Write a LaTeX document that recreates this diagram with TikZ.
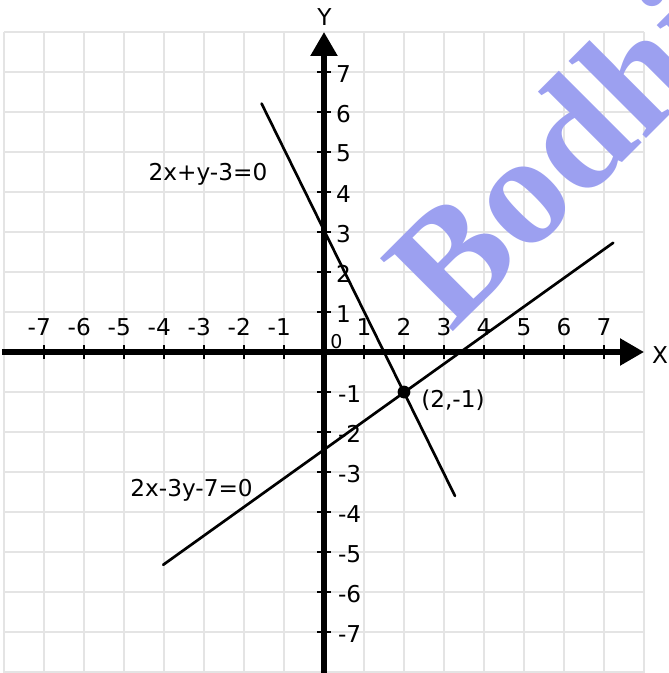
\documentclass[tikz,border=0pt]{standalone}
\usepackage{fontspec}
\setmainfont{DejaVu Sans}
\newfontfamily\wmfont{Liberation Serif}
\usetikzlibrary{arrows.meta}
\definecolor{gridgray}{RGB}{228,228,228}
\definecolor{wmblue}{RGB}{156,160,240}
\begin{document}
\begin{tikzpicture}[x=1cm,y=1cm,
  lbl/.style={font=\fontsize{16.5}{18}\selectfont, inner sep=0pt},
  zerolbl/.style={font=\fontsize{13.5}{15}\selectfont, inner sep=0pt},
  axisline/.style={line width=3.8pt, -{Triangle[length=6mm,width=6.5mm]}},
  tickmark/.style={line width=1.5pt},
  graphline/.style={line width=1.9pt, line cap=round},
  wmstyle/.style={font=\wmfont\bfseries\fontsize{112}{112}\selectfont, text=wmblue, inner sep=0pt},
  dotstyle/.style={circle, fill=black, inner sep=0pt, minimum size=0.32cm}
]
\useasboundingbox (-8.1,-8.025) rectangle (8.6,8.8);
\begin{scope}
  \clip (-8.1,-8.025) rectangle (8.6,8.8);
  \draw[gridgray, line width=1pt] (-8,-8.2) grid (8,8);
  \node[wmstyle, rotate=45, anchor=base west] (wm) at (3.18,0.47) {Bodhi};
\end{scope}
% axes
\coordinate (xl) at (-8.05,0);
\coordinate (xr) at (8,0);
\coordinate (yb) at (0,-8.2);
\coordinate (yt) at (0,8);
\draw[axisline] (xl) -- (xr);
\draw[axisline] (yb) -- (yt);
\foreach \i in {-7,...,-1,1,2,...,7} {
  \draw[tickmark] (\i,-0.18) -- (\i,0.18);
  \draw[tickmark] (-0.18,\i) -- (0.18,\i);
}
% tick labels
\foreach \k in {1,...,7} {
  \node[lbl] (xn\k) at (-\k-0.12,0.63) {-\k};
  \node[lbl] (xp\k) at (\k,0.62) {\k};
  \node[lbl] (yp\k) at (0.49,\k-0.04) {\k};
  \node[lbl] (yn\k) at (0.64,-\k-0.05) {-\k};
}
\node[zerolbl] (zero) at (0.31,0.26) {0};
\node[lbl] (ylab) at (0.01,8.375) {Y};
\node[lbl] (xlab) at (8.4,-0.075) {X};
% lines
\coordinate (a1) at (-1.56,6.21);
\coordinate (a2) at (3.275,-3.6);
\coordinate (b1) at (-4.02,-5.32);
\coordinate (b2) at (7.23,2.73);
\draw[graphline] (a1) -- (a2);
\draw[graphline] (b1) -- (b2);
\node[dotstyle] (P) at (2,-1) {};
\node[lbl] (eqa) at (-2.9,4.44) {2x+y-3=0};
\node[lbl] (eqb) at (-3.31,-3.45) {2x-3y-7=0};
\node[lbl] (pt) at (3.225,-1.2) {(2,-1)};
\end{tikzpicture}
\end{document}
